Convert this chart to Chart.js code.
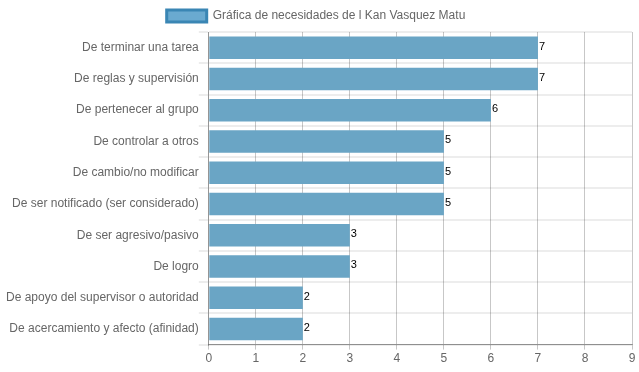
<!DOCTYPE html>
<html>
<head>
<meta charset="utf-8">
<script src="https://cdn.jsdelivr.net/npm/chart.js@4/dist/chart.umd.min.js"></script>
<style>
  html, body { margin: 0; padding: 0; background: #fff; }
  #wrap { width: 639px; height: 372px; }
</style>
</head>
<body>
<div id="wrap"><canvas id="needsChart" width="639" height="372"></canvas></div>
<script>
// datos
const categorias = [
  'De terminar una tarea',
  'De reglas y supervisión',
  'De pertenecer al grupo',
  'De controlar a otros',
  'De cambio/no modificar',
  'De ser notificado (ser considerado)',
  'De ser agresivo/pasivo',
  'De logro',
  'De apoyo del supervisor o autoridad',
  'De acercamiento y afecto (afinidad)'
];
const valores = [7, 7, 6, 5, 5, 5, 3, 3, 2, 2];
const serie = 'Gráfica de necesidades de l Kan Vasquez Matu';

Chart.defaults.font.family = "'Liberation Sans', Arial, sans-serif";
Chart.defaults.font.size = 12;
Chart.defaults.color = '#666';

// numero al final de cada barra
const barValues = {
  id: 'barValues',
  afterDatasetsDraw(chart) {
    const ctx = chart.ctx;
    const meta = chart.getDatasetMeta(0);
    ctx.save();
    ctx.font = "11px 'Liberation Sans', Arial, sans-serif";
    ctx.fillStyle = '#000';
    ctx.textAlign = 'left';
    ctx.textBaseline = 'middle';
    meta.data.forEach((bar, i) => {
      ctx.fillText(valores[i], bar.x + 1, bar.y - 1);
    });
    ctx.restore();
  }
};

const ctx = document.getElementById('needsChart');
new Chart(ctx, {
  type: 'bar',
  data: {
    labels: categorias,
    datasets: [{
      label: serie,
      data: valores,
      backgroundColor: 'rgba(106,165,197,1)',
      borderWidth: 0,
      barPercentage: 0.9,
      categoryPercentage: 0.8
    }]
  },
  options: {
    indexAxis: 'y',
    responsive: false,
    animation: false,
    layout: { padding: { right: 7, left: 0, top: 0, bottom: 4 } },
    plugins: {
      tooltip: { enabled: false },
      legend: {
        labels: {
          boxWidth: 40,
          boxHeight: 12,
          padding: 10,
          generateLabels: () => [{
            text: serie,
            fillStyle: 'rgba(106,170,208,1)',
            strokeStyle: '#3a86b4',
            lineWidth: 3,
            fontColor: '#666'
          }]
        }
      }
    },
    scales: {
      x: {
        min: 0,
        max: 9,
        z: 1,
        ticks: { stepSize: 1, color: '#666', padding: 2 },
        grid: { color: 'rgba(0,0,0,0.22)', tickLength: 5 },
        border: { color: 'rgba(0,0,0,0.4)' }
      },
      y: {
        afterFit(scale) { scale.width += 6; },
        ticks: { color: '#666', padding: 0 },
        grid: { color: 'rgba(0,0,0,0.07)', lineWidth: 2, tickLength: 10 },
        border: { color: 'rgba(0,0,0,0.25)' }
      }
    }
  },
  plugins: [barValues]
});
</script>
</body>
</html>
